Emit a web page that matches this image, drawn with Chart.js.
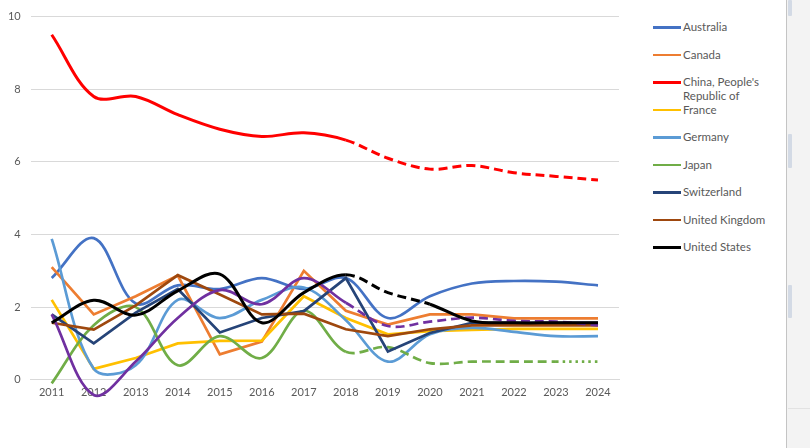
<!DOCTYPE html>
<html>
<head>
<meta charset="utf-8">
<script src="https://cdn.jsdelivr.net/npm/chart.js@4.4.0/dist/chart.umd.min.js"></script>
<style>
html, body { margin: 0; padding: 0; width: 810px; height: 448px; overflow: hidden; background: #fff; font-family: Lato, "Liberation Sans", sans-serif; }
#wrap { position: absolute; left: 0; top: 0; width: 630px; height: 469px; }
#legend { position: absolute; left: 653px; top: 20px; }
.item { position: relative; height: 27.5px; }
.item .sw { position: absolute; left: 0; top: 6px; width: 28px; height: 2.6px; }
.item .tx { position: absolute; left: 30px; top: 0; width: 100px; line-height: 14px; font-size: 11.5px; color: #595959; white-space: normal; }
#side { position: absolute; left: 786px; top: 0; width: 24px; height: 448px; background: #f3f3f3; border-left: 1px solid #c4c4c4; }
.knob { position: absolute; left: 1px; width: 4px; background: #d3dae5; border-radius: 1px; }
#side .rule { position: absolute; left: 1px; right: 0; top: 408px; border-top: 1px solid #e2e2e2; }
</style>
</head>
<body>
<div id="wrap"><canvas id="chart"></canvas></div>
<div id="legend"></div>
<div id="side">
  <div class="knob" style="top:0;height:16px"></div>
  <div class="knob" style="top:134px;height:34px"></div>
  <div class="knob" style="top:285px;height:33px"></div>
  <div class="rule"></div>
</div>
<script>
// valores
const years = ['2011', '2012', '2013', '2014', '2015', '2016', '2017', '2018', '2019', '2020', '2021', '2022', '2023', '2024'];

const australia   = [2.8, 3.9, 2.1, 2.6, 2.5, 2.8, 2.5, 2.8, 1.7, 2.3, 2.65, 2.72, 2.7, 2.6];
const canada      = [3.1, 1.8, 2.3, 2.87, 0.7, 1.05, 3.0, 1.9, 1.52, 1.8, 1.8, 1.69, 1.69, 1.69];
const china       = [9.5, 7.8, 7.8, 7.3, 6.9, 6.7, 6.8, 6.6, 6.1, 5.8, 5.9, 5.7, 5.6, 5.5];
const france      = [2.2, 0.3, 0.6, 1.0, 1.07, 1.08, 2.3, 1.7, 1.25, 1.34, 1.37, 1.4, 1.4, 1.4];
const germany     = [3.88, 0.3, 0.4, 2.2, 1.7, 2.2, 2.54, 1.64, 0.5, 1.25, 1.43, 1.32, 1.2, 1.2];
const japan       = [-0.1, 1.5, 2.0, 0.4, 1.2, 0.6, 1.9, 0.77, 0.9, 0.46, 0.5, 0.5, 0.5, 0.5];
const switzerland = [1.8, 1.0, 1.85, 2.5, 1.3, 1.7, 1.89, 2.8, 0.78, 1.29, 1.57, 1.57, 1.57, 1.57];
const uk          = [1.57, 1.38, 2.05, 2.88, 2.35, 1.8, 1.82, 1.39, 1.2, 1.39, 1.5, 1.5, 1.5, 1.5];
const otro        = [1.8, -0.42, 0.5, 1.7, 2.47, 2.08, 2.8, 2.12, 1.48, 1.6, 1.71, 1.62, 1.6, 1.5];
const usa         = [1.57, 2.19, 1.78, 2.45, 2.91, 1.57, 2.4, 2.89, 2.4, 2.08, 1.62, 1.57, 1.57, 1.57];

const DASH = [9, 5];
const DOT = [2.5, 4];

// guiones desde un indice (previsiones)
function guiones(desde, hasta) {
    return ctx => (ctx.p0DataIndex >= desde && ctx.p0DataIndex < hasta) ? DASH : undefined;
}

function serie(label, data, color, opts) {
    return Object.assign({
        label: label,
        data: data,
        borderColor: color,
        backgroundColor: color,
        borderWidth: 2.7,
        pointRadius: 0,
        fill: false,
        tension: 0.35
    }, opts || {});
}

const datasets = [
    serie('Australia', australia, '#4472C4'),
    serie('Canada', canada, '#ED7D31', { tension: 0 }),
    serie("China, People's Republic of", china, '#FF0000', { borderWidth: 3, segment: { borderDash: guiones(7, 99) } }),
    serie('France', france, '#FFC000', { tension: 0 }),
    serie('Germany', germany, '#5B9BD5'),
    serie('Japan', japan, '#70AD47', { segment: { borderDash: ctx => ctx.p0DataIndex >= 12 ? DOT : (ctx.p0DataIndex >= 7 ? DASH : undefined) } }),
    serie('Switzerland', switzerland, '#264478', { tension: 0 }),
    serie('United Kingdom', uk, '#9E480E', { tension: 0 }),
    serie('Otro', otro, '#7030A0', { hideLegend: true, segment: { borderDash: guiones(7, 99) } }),
    serie('United States', usa, '#000000', { borderWidth: 3, segment: { borderDash: guiones(7, 9) } })
];
// las ultimas series encima, como en Excel
datasets.forEach((d, i) => { d.order = datasets.length - i; });

const fuente = { family: 'Lato, "Liberation Sans", sans-serif', size: 11 };

const chart = new Chart(document.getElementById('chart'), {
    type: 'line',
    data: { labels: years, datasets: datasets },
    options: {
        responsive: true,
        maintainAspectRatio: false,
        animation: false,
        layout: { padding: { top: 16.5, right: 11, left: 0, bottom: 0 } },
        scales: {
            x: {
                position: { y: 0 },
                offset: true,
                grid: { display: false, drawTicks: false },
                border: { color: '#d9d9d9' },
                ticks: { color: '#595959', font: fuente, padding: 6, maxRotation: 0, autoSkip: false },
                afterFit: s => { s.height = 20; }
            },
            y: {
                min: -2,
                max: 10,
                ticks: { stepSize: 2, color: '#595959', font: fuente, padding: 10 },
                grid: { color: '#d9d9d9', drawTicks: false },
                border: { display: false },
                afterFit: s => { s.width = 30.7; }
            }
        },
        plugins: {
            legend: { display: false },
            tooltip: { enabled: false }
        }
    }
});

// leyenda a la derecha
const leyenda = document.getElementById('legend');
chart.data.datasets.forEach(d => {
    if (d.hideLegend) return;
    const item = document.createElement('div');
    item.className = 'item';
    item.innerHTML = '<div class="sw" style="background:' + d.borderColor + '"></div><div class="tx"></div>';
    item.querySelector('.tx').textContent = d.label;
    leyenda.appendChild(item);
});
</script>
</body>
</html>
